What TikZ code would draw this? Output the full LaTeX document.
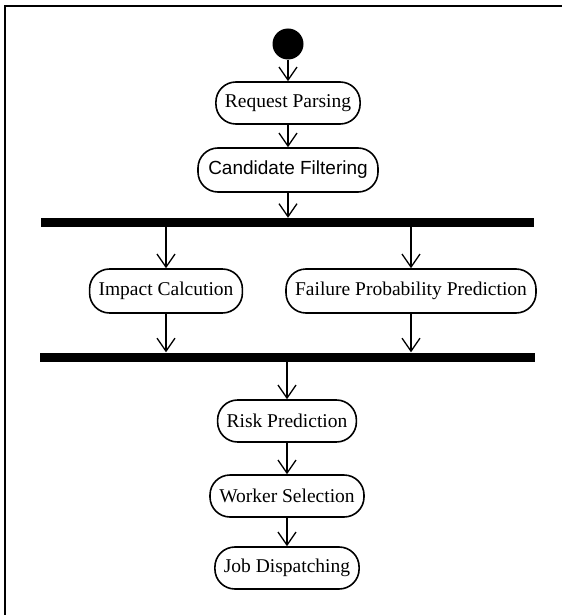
\documentclass[tikz,border=0pt]{standalone}
\usepackage{fontspec}
\setmainfont{Liberation Serif}
\newfontfamily\cfsans{Liberation Sans}
\usetikzlibrary{arrows.meta,calc}
\tikzset{
  act/.style={draw, line width=1.6pt, rounded corners=20pt, minimum height=42pt,
    inner xsep=9pt, inner ysep=0pt, font=\fontsize{19.5}{22}\selectfont, align=center},
  barnode/.style={fill=black, draw=none, inner sep=0pt, minimum height=9pt},
  flow/.style={line width=1.3pt, -{Straight Barb[length=13pt,width=18pt,line width=1.3pt]}},
}
\begin{document}
\begin{tikzpicture}[x=1pt,y=-1pt]
\useasboundingbox (0,0) rectangle (562,615);
\draw[line width=2.2pt] (5,615) -- (5,6) -- (562,6);

\node[circle, fill=black, minimum size=31pt, inner sep=0pt] (start) at (288,44) {};
\node[act, minimum width=143pt] (rp) at (288,103) {Request Parsing};
\node[act, minimum width=180pt, minimum height=44pt, font=\cfsans\fontsize{19}{22}\selectfont] (cf) at (288,170) {Candidate Filtering};
\node[barnode, minimum width=493pt] (bar1) at (287,222.5) {};
\node[act, minimum width=148pt, minimum height=44pt] (ic) at (166,291) {Impact Calcution};
\node[act, minimum width=250pt, minimum height=44pt] (fpp) at (411,291) {Failure Probability Prediction};
\node[barnode, minimum width=495pt] (bar2) at (287.5,357) {};
\node[act, minimum width=137pt] (risk) at (287,421) {Risk Prediction};
\node[act, minimum width=154pt] (ws) at (287,496) {Worker Selection};
\node[act, minimum width=142pt] (jd) at (287,568) {Job Dispatching};

\draw[flow] (start.south) -- (rp.north);
\draw[flow] (rp.south) -- (cf.north);
\draw[flow] (cf.south) -- (cf.south |- bar1.north);
\draw[flow] (bar1.south -| ic.north) -- (ic.north);
\draw[flow] (bar1.south -| fpp.north) -- (fpp.north);
\draw[flow] (ic.south) -- (ic.south |- bar2.north);
\draw[flow] (fpp.south) -- (fpp.south |- bar2.north);
\draw[flow] (bar2.south -| risk.north) -- (risk.north);
\draw[flow] (risk.south) -- (ws.north);
\draw[flow] (ws.south) -- (jd.north);
\end{tikzpicture}
\end{document}
